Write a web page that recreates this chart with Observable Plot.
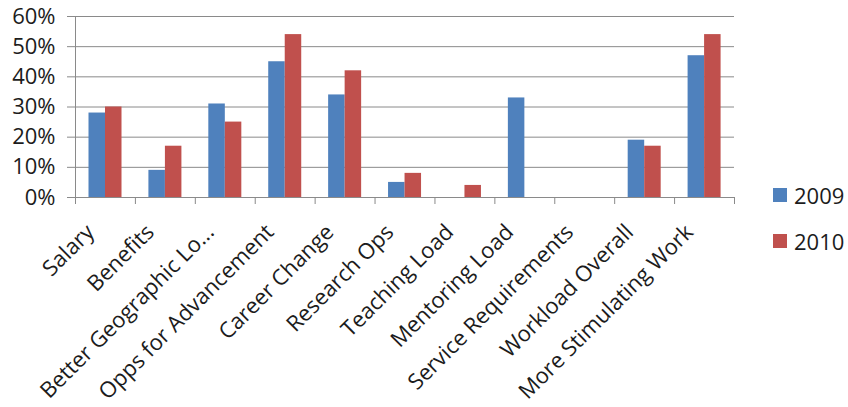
<!DOCTYPE html>
<html>
<head>
<meta charset="utf-8">
<script src="https://cdn.jsdelivr.net/npm/d3@7"></script>
<script src="https://cdn.jsdelivr.net/npm/@observablehq/plot@0.6"></script>
<style>
  body { margin: 0; background: #fff; }
  #chart { position: relative; width: 848px; height: 407px; font-family: "Open Sans", sans-serif; color: #1c1c1c; }
  #chart svg { position: absolute; left: 0; top: 0; }
  .legend-item { position: absolute; display: flex; align-items: center; font-size: 22px; line-height: 14px; }
  .legend-swatch { width: 14px; height: 14px; margin-right: 7px; }
</style>
</head>
<body>
<div id="chart"></div>
<script>
// Reasons for leaving, share of respondents (%) per year
const categories = [
  "Salary", "Benefits", "Better Geographic Lo...", "Opps for Advancement",
  "Career Change", "Research Ops", "Teaching Load", "Mentoring Load",
  "Service Requirements", "Workload Overall", "More Stimulating Work"
];
const years = ["2009", "2010"];
const values2009 = [28, 9, 31, 45, 34, 5, 0, 33, 0, 19, 47];
const values2010 = [30, 17, 25, 54, 42, 8, 4, 0, 0, 17, 54];
const yTicks = [0, 10, 20, 30, 40, 50, 60];
const colors = ["#4F81BD", "#C0504D"];

const gridColor = "#8a8a8a";
const textColor = "#1c1c1c";

const rows2009 = categories.map((c, i) => ({category: c, year: years[0], value: values2009[i]}));
const rows2010 = categories.map((c, i) => ({category: c, year: years[1], value: values2010[i]}));

const width = 848, height = 407;
const marginLeft = 75, marginRight = 114, marginTop = 16, marginBottom = 210;
const step = (width - marginLeft - marginRight) / categories.length;

const plot = Plot.plot({
  width, height, marginLeft, marginRight, marginTop, marginBottom,
  style: {fontFamily: "'Open Sans', sans-serif", color: textColor, background: "transparent"},
  x: {domain: categories, padding: 0, round: false, axis: null},
  y: {domain: [0, 60], axis: null},
  marks: [
    Plot.gridY(yTicks, {stroke: gridColor, strokeOpacity: 1, strokeWidth: 1}),
    Plot.axisY(yTicks, {
      tickSize: 8, tickPadding: 12, stroke: gridColor, fill: textColor,
      fontSize: 22, tickFormat: d => `${d}%`, label: null
    }),
    // grouped bars: 2009 on the left half of each group, 2010 on the right
    Plot.barY(rows2009, {x: "category", y: "value", fill: colors[0], insetLeft: 13.5, insetRight: step - 30}),
    Plot.barY(rows2010, {x: "category", y: "value", fill: colors[1], insetLeft: 30, insetRight: step - 46.5}),
    Plot.ruleY([0], {stroke: gridColor, strokeWidth: 1}),
    Plot.frame({anchor: "left", stroke: gridColor}),
    // category boundary ticks below the baseline
    Plot.axisX(categories, {tickSize: 7, text: null, dx: -step / 2, stroke: gridColor, label: null}),
    Plot.axisX(categories.slice(-1), {tickSize: 7, text: null, dx: step / 2, stroke: gridColor, label: null}),
    // rotated category labels
    Plot.axisX(categories, {
      tickSize: 0, tickPadding: 31, tickRotate: -45, dx: -15,
      fontSize: 22, fill: textColor, label: null
    })
  ]
});

const chart = document.getElementById("chart");
chart.appendChild(plot);

years.forEach((year, i) => {
  const item = document.createElement("div");
  item.className = "legend-item";
  item.style.left = "773px";
  item.style.top = (188 + i * 46) + "px";
  const sw = document.createElement("div");
  sw.className = "legend-swatch";
  sw.style.background = colors[i];
  const label = document.createElement("span");
  label.textContent = year;
  item.append(sw, label);
  chart.appendChild(item);
});
</script>
</body>
</html>
